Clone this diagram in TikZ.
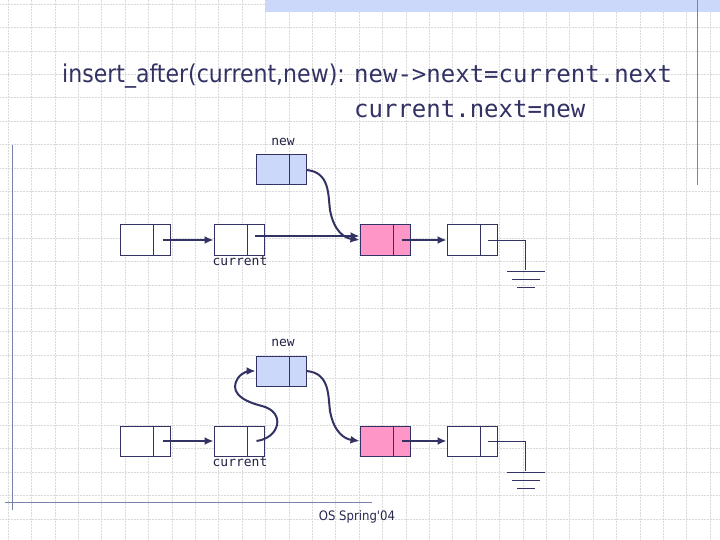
\documentclass[tikz,border=0pt]{standalone}
\usepackage{fontspec}
\setmainfont{DejaVu Sans}
\newfontfamily\titlefont{DejaVu Sans Condensed}
\newfontfamily\codefont{DejaVu Sans Mono}
\usetikzlibrary{arrows.meta}
\definecolor{ink}{RGB}{50,50,100}
\definecolor{newblue}{RGB}{204,216,250}
\definecolor{pinkc}{RGB}{255,150,200}
\definecolor{gridc}{RGB}{218,218,218}
\definecolor{framec}{RGB}{120,130,170}
\tikzset{
  cell/.style={draw=ink,line width=1pt,minimum width=50pt,minimum height=30pt,inner sep=0pt,fill=white},
  ptr/.style={draw=ink,line width=2pt,-{Latex[length=9pt,width=8pt]}},
  lbl/.style={font=\codefont\fontsize{13}{13}\selectfont,text=ink!70!black,inner sep=0pt},
  gnd/.style={draw=ink,line width=1pt}
}
\newcommand{\divider}[1]{\draw[ink,line width=1pt] ([xshift=-17pt]#1.north east) -- ([xshift=-17pt]#1.south east);}
\begin{document}
\begin{tikzpicture}[x=1pt,y=-1pt]
\useasboundingbox (0,0) rectangle (720,540);
\fill[white] (0,0) rectangle (720,540);
\foreach \i in {0,...,31} \draw[gridc,densely dotted,line width=0.5pt] (\i*23.4+8,0) -- (\i*23.4+8,540);
\foreach \j in {0,...,23} \draw[gridc,densely dotted,line width=0.5pt] (0,\j*23.4+4) -- (720,\j*23.4+4);
\fill[newblue] (265,0) rectangle (720,12);
\draw[framec,line width=0.8pt] (697,0) -- (697,185);
\draw[framec,line width=0.8pt] (12,145) -- (12,510);
\draw[framec,line width=0.8pt] (5,502) -- (372,502);
\node[anchor=west,inner sep=0pt,text=ink,font=\titlefont\fontsize{24.5}{24.5}\selectfont] (title) at (62,76) {insert\_after(current,new):};
\node[anchor=west,inner sep=0pt,text=ink,font=\codefont\fontsize{24}{24}\selectfont] (code1) at (354,74) {new->next=current.next};
\node[anchor=west,inner sep=0pt,text=ink,font=\codefont\fontsize{24}{24}\selectfont] (code2) at (354,109) {current.next=new};
\node[font=\titlefont\fontsize{13}{13}\selectfont,text=ink!80!black] (foot) at (357,517) {OS Spring'04};
\foreach \d/\s in {A/0,B/201}{
  \begin{scope}[yshift=-\s pt]
  \node[cell] (\d1) at (145,240) {};
  \node[cell] (\d2) at (239,240) {};
  \node[cell,fill=newblue] (\d n) at (281,170) {};
  \node[cell,fill=pinkc] (\d p) at (385,240) {};
  \node[cell] (\d4) at (472,240) {};
  \foreach \n in {\d1,\d2,\d n,\d p,\d4} {\divider{\n}}
  \node[lbl] (\d ln) at (283,142) {new};
  \node[lbl] (\d lc) at (240,261) {current};
  \coordinate (\d g) at (525,270);
  \draw[gnd] (488,240) -| (\d g);
  \draw[gnd] (507,271) -- (545,271) (512,279) -- (540,279) (517,287) -- (535,287);
  \draw[ptr] ([xshift=-8pt]\d1.east) -- (\d2.west);
  \draw[ptr] ([xshift=-9pt]\d p.east) -- (\d4.west);
  \draw[ptr] (\d n.east) .. controls (330,172) and (328,195) .. (330,210) .. controls (334,232) and (345,238) .. (\d p.west);
  \end{scope}
}
\draw[ptr] ([xshift=-10pt,yshift=4pt]A2.east) -- ([yshift=4pt]Ap.west);
\draw[ptr] ([xshift=-8pt]B2.east) .. controls (280,438) and (286,412) .. (262,406) .. controls (238,400) and (230,390) .. (238,378) .. controls (242,372) and (250,371) .. (Bn.west);
\end{tikzpicture}
\end{document}
